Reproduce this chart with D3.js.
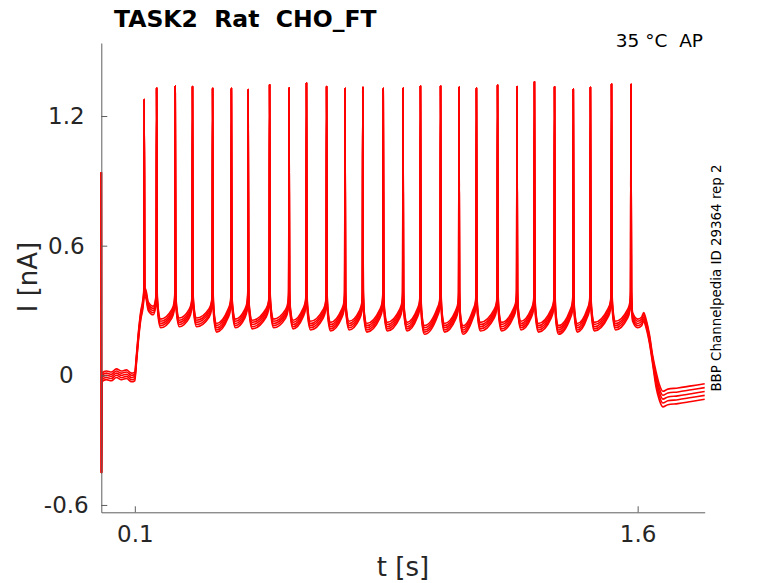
<!DOCTYPE html>
<html>
<head>
<meta charset="utf-8">
<script src="https://cdn.jsdelivr.net/npm/d3@7"></script>
<style>
  body { margin: 0; background: #fff; }
  text { font-family: "DejaVu Sans", sans-serif; }
</style>
</head>
<body>
<div id="chart"></div>
<script>
const width = 778;
const height = 583;

// spike times (s) and peak currents (nA)
const spikeT = [0.128, 0.165, 0.2205, 0.272, 0.332, 0.388, 0.438, 0.502, 0.560,
  0.612, 0.672, 0.727, 0.780, 0.841, 0.900, 0.952, 1.012, 1.067, 1.119, 1.182,
  1.240, 1.292, 1.352, 1.408, 1.459, 1.522, 1.580];
const spikePeak = [1.279, 1.329, 1.339, 1.337, 1.328, 1.328, 1.323, 1.345, 1.331,
  1.353, 1.337, 1.328, 1.333, 1.328, 1.329, 1.339, 1.339, 1.334, 1.329, 1.343,
  1.337, 1.359, 1.335, 1.325, 1.333, 1.348, 1.347];
// dip level after each spike and level just before the next one
const troughI = [0.32, 0.24, 0.245, 0.245, 0.22, 0.24, 0.235, 0.24, 0.235, 0.23,
  0.225, 0.23, 0.22, 0.225, 0.225, 0.21, 0.22, 0.21, 0.225, 0.225, 0.23, 0.22,
  0.21, 0.22, 0.225, 0.23];
const preI = [0.33, 0.335, 0.32, 0.32, 0.325, 0.32, 0.32, 0.325, 0.32, 0.325,
  0.32, 0.32, 0.315, 0.32, 0.32, 0.32, 0.325, 0.315, 0.32, 0.32, 0.325, 0.32,
  0.32, 0.315, 0.32, 0.325, 0.32];

// holding / step onset before first spike
const onsetT = [0, 0.0005, 0.002, 0.015, 0.03, 0.045, 0.06, 0.075, 0.09, 0.1, 0.104, 0.112, 0.118, 0.124];
const onsetI = [0.94, -0.45, -0.01, 0.0, -0.005, 0.01, 0.0, 0.005, -0.01, -0.005, 0.06, 0.2, 0.28, 0.33];
// plateau after last spike and step offset
const offsetT = [1.585, 1.60, 1.612, 1.618, 1.625, 1.635, 1.645, 1.655, 1.665, 1.675, 1.69, 1.72, 1.76, 1.80];
const offsetI = [0.27, 0.24, 0.25, 0.27, 0.24, 0.17, 0.07, -0.02, -0.08, -0.11, -0.1, -0.095, -0.085, -0.075];

// vertical spread of the overlaid sweeps
const sweepOff = [-0.02, -0.01, 0, 0.01, 0.02];

const xTicks = [0.1, 1.6];
const yTicks = [-0.6, 0, 0.6, 1.2];

const svg = d3.select("#chart").append("svg")
  .attr("width", width)
  .attr("height", height);

const x = d3.scaleLinear().domain([0, 1.8]).range([101.3, 704.7]);
const y = d3.scaleLinear().domain([-0.634, 1.538]).range([512.3, 43]);

// build one sweep from the read values
function sweep(off) {
  let pts = [];
  onsetT.forEach((t, i) => pts.push([t, onsetI[i] + (i > 1 ? off : 0)]));
  spikeT.forEach((t, k) => {
    pts.push([t - 0.001, preI[k] + 0.05 + off]);
    pts.push([t, spikePeak[k]]);
    pts.push([t + 0.0015, 0.38 + off]);
    if (k < troughI.length) {
      let next = spikeT[k + 1];
      pts.push([t + 0.004, troughI[k] + 0.06 + off]);
      pts.push([t + 0.012, troughI[k] + off]);
      pts.push([next - 0.010, preI[k + 1] - 0.035 + off]);
      pts.push([next - 0.003, preI[k + 1] + off]);
    }
  });
  // the post-step baseline is a bit noisier, so the sweeps spread wider
  offsetT.forEach((t, i) => pts.push([t, offsetI[i] + (t > 1.65 ? off * 1.8 : off)]));
  return pts;
}

const line = d3.line()
  .x(d => x(d[0]))
  .y(d => y(d[1]))
  .curve(d3.curveMonotoneX);

svg.append("g")
  .selectAll("path")
  .data(sweepOff)
  .enter()
  .append("path")
  .attr("d", d => line(sweep(d)))
  .attr("fill", "none")
  .attr("stroke", "#ff0000")
  .attr("stroke-width", 1.6)
  .attr("stroke-linejoin", "round");

const fmt = d => d === 0 ? "0" : d3.format(".1f")(d).replace("\u2212", "-");

// axes, ticks pointing inward
const xAxis = svg.append("g")
  .attr("transform", "translate(0," + y.range()[0] + ")")
  .call(d3.axisBottom(x).tickValues(xTicks).tickFormat(fmt)
    .tickSizeInner(-6).tickSizeOuter(0).tickPadding(13));

const yAxis = svg.append("g")
  .attr("transform", "translate(" + x.range()[0] + ",0)")
  .call(d3.axisLeft(y).tickValues(yTicks).tickFormat(fmt)
    .tickSizeInner(-6).tickSizeOuter(0));

[xAxis, yAxis].forEach(g => {
  g.select(".domain").attr("stroke", "#5e5e5e");
  g.selectAll(".tick line").attr("stroke", "#5e5e5e");
  g.selectAll(".tick text")
    .attr("fill", "#262626")
    .style("font-size", "23px");
});
yAxis.selectAll(".tick text")
  .attr("text-anchor", "middle")
  .attr("x", -35);

// labels
svg.append("text")
  .attr("x", 403)
  .attr("y", 576)
  .attr("text-anchor", "middle")
  .attr("fill", "#262626")
  .style("font-size", "26px")
  .text("t [s]");

svg.append("text")
  .attr("transform", "translate(37,277) rotate(-90)")
  .attr("text-anchor", "middle")
  .attr("fill", "#262626")
  .style("font-size", "26px")
  .text("I [nA]");

svg.append("text")
  .attr("x", 114)
  .attr("y", 27)
  .attr("fill", "#000")
  .style("font-size", "23.5px")
  .style("font-weight", "bold")
  .style("white-space", "pre")
  .text("TASK2  Rat  CHO_FT");

svg.append("text")
  .attr("x", 703)
  .attr("y", 47)
  .attr("text-anchor", "end")
  .attr("fill", "#000")
  .style("font-size", "18.5px")
  .style("white-space", "pre")
  .text("35 °C  AP");

svg.append("text")
  .attr("transform", "translate(721,278) rotate(-90)")
  .attr("text-anchor", "middle")
  .attr("fill", "#000")
  .style("font-size", "13.4px")
  .text("BBP Channelpedia ID 29364 rep 2");
</script>
</body>
</html>
